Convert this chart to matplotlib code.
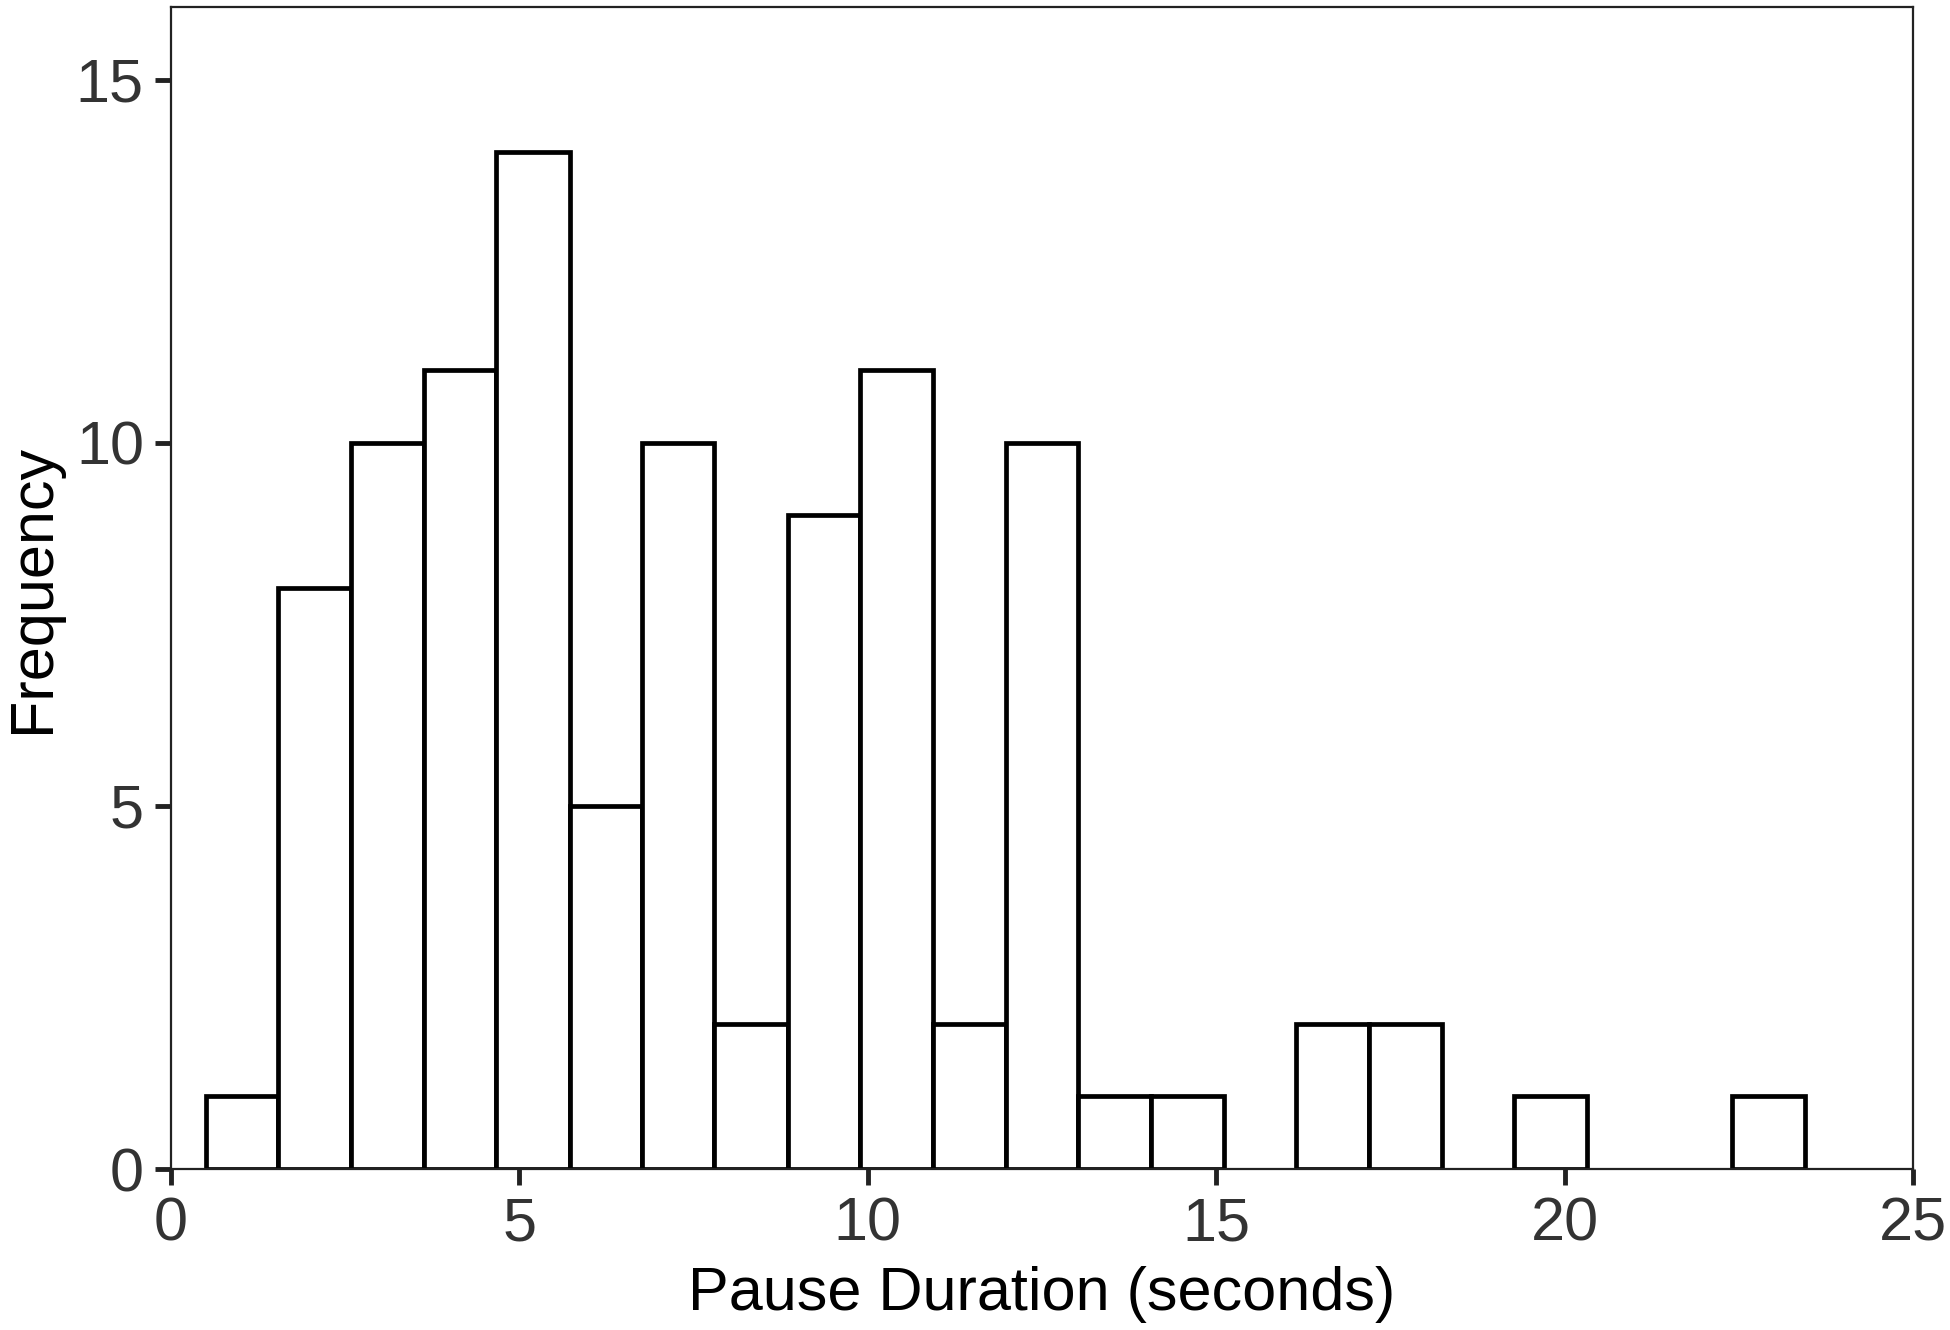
import matplotlib
matplotlib.use("Agg")
import matplotlib.pyplot as plt

plt.rcParams["font.family"] = ["Liberation Sans", "DejaVu Sans"]

# Гистограмма длительности пауз: 22 бина от 0.5 до 23.45 с
bin_edges = [0.50, 1.54, 2.59, 3.63, 4.67, 5.72, 6.76, 7.80, 8.85, 9.89, 10.93,
             11.98, 13.02, 14.06, 15.11, 16.15, 17.19, 18.24, 19.28, 20.32,
             21.37, 22.41, 23.45]
counts = [1, 8, 10, 11, 14, 5, 10, 2, 9, 11, 2, 10, 1, 1, 0, 2, 2, 0, 1, 0, 0, 1]
x_ticks = [0, 5, 10, 15, 20, 25]
y_ticks = [0, 5, 10, 15]

fig, ax = plt.subplots(figsize=(19.5, 13.3), dpi=100)
fig.subplots_adjust(left=0.0877, right=0.981, top=0.9947, bottom=0.121)

lefts = bin_edges[:-1]
widths = [b - a for a, b in zip(bin_edges[:-1], bin_edges[1:])]
# пустые бины не рисуем — там только базовая линия
shown = [(l, w, c) for l, w, c in zip(lefts, widths, counts) if c > 0]
ax.bar([s[0] for s in shown], [s[2] for s in shown], width=[s[1] for s in shown],
       align="edge", facecolor="white", edgecolor="black", linewidth=3.4)

ax.set_xlim(0, 25)
ax.set_ylim(0, 16)
ax.set_xticks(x_ticks)
ax.set_yticks(y_ticks)

for sp in ax.spines.values():
    sp.set_linewidth(1.6)
    sp.set_color("#222222")

ax.tick_params(axis="both", direction="out", length=11.5, width=3.5,
               color="#222222", labelsize=44, labelcolor="#333333", pad=8)

ax.set_xlabel("Pause Duration (seconds)", fontsize=44, color="black", labelpad=9)
ax.set_ylabel("Frequency", fontsize=44, color="black", labelpad=10)

fig.savefig("out.png", dpi=100)
